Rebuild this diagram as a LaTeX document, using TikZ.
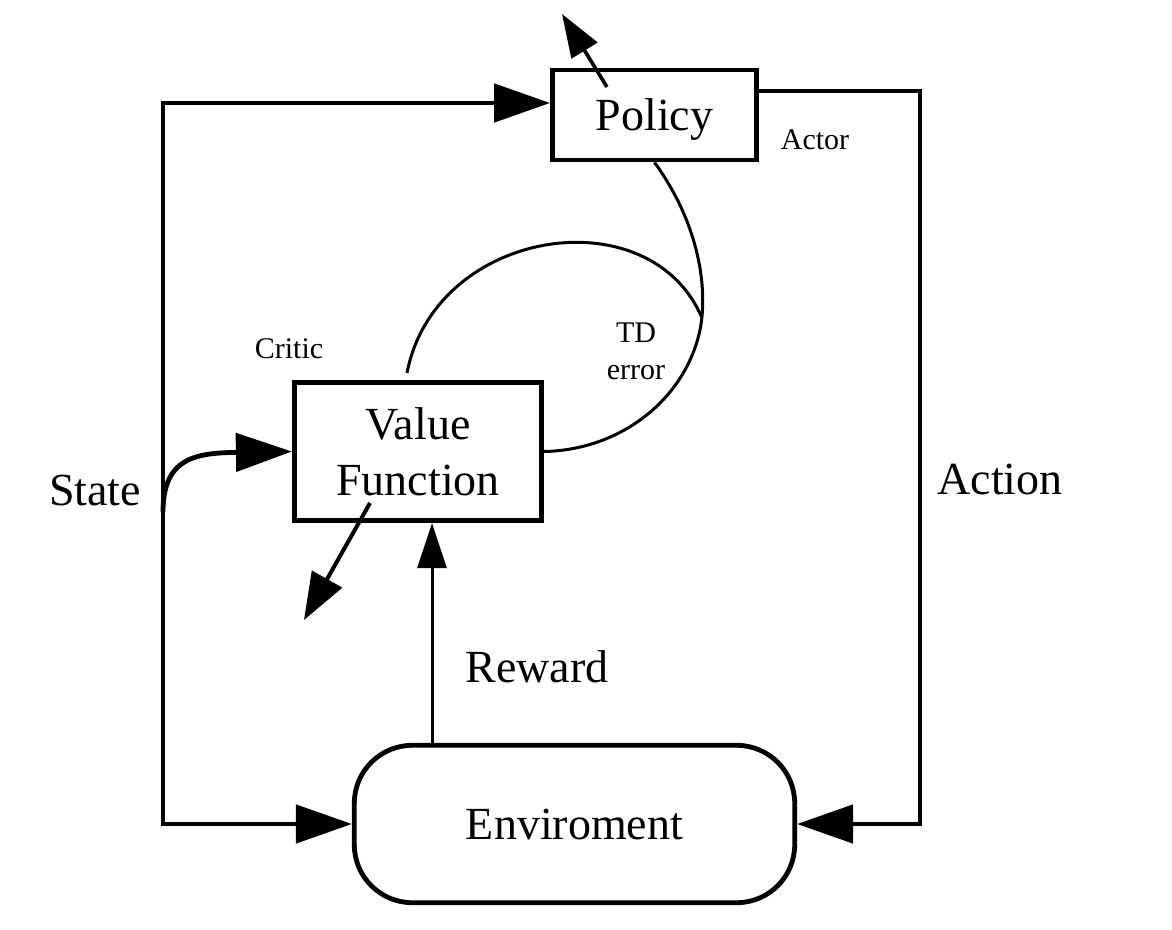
\documentclass[tikz,border=0pt]{standalone}
\usepackage{fontspec}
\setmainfont{Liberation Serif}
\usetikzlibrary{arrows.meta,calc}
\begin{document}
\begin{tikzpicture}[x=0.5pt,y=-0.5pt,
  box/.style={draw,line width=2.4pt,inner sep=0pt,align=center,
    font=\fontsize{23}{28}\selectfont},
  biglabel/.style={inner sep=0pt,anchor=base,font=\fontsize{23}{28}\selectfont},
  smalllabel/.style={inner sep=0pt,align=center,font=\fontsize{15}{18.5}\selectfont},
  mainline/.style={line width=2.4pt},
  thinline/.style={line width=1.5pt},
  BigTri/.tip={Triangle[length=28pt,width=19pt]},
]
\useasboundingbox (0,0) rectangle (1172,930);

% nodes
\node[box,minimum width=102pt,minimum height=45pt,text depth=0pt] (pol) at (654.5,115) {Policy};
\node[box,minimum width=123.7pt,minimum height=69.2pt] (vf) at (418,451.5) {Value\\Function};
\node[box,rounded corners=29pt,minimum width=220.2pt,minimum height=78.7pt,text depth=0pt] (env) at (574.5,824) {Enviroment};

% labels
\node[biglabel] (state) at (95,505) {State};
\node[biglabel] (action) at (1000,494) {Action};
\node[biglabel] (reward) at (537,682) {Reward};
\node[smalllabel,anchor=base] (critic) at (289,359) {Critic};
\node[smalllabel,anchor=base] (actor) at (815,150) {Actor};
\node[smalllabel,text depth=0pt] (tderr) at (636,351.5) {TD\\error};

% helper coordinates
\coordinate (tl) at (163,103);
\coordinate (tr) at (920,91);
\coordinate (rw) at (432,0);
\coordinate (sc) at (163,512);
\coordinate (pa) at (607,87);
\coordinate (pb) at (562,14);
\coordinate (va) at (370,503);
\coordinate (vb) at (304,620);
\coordinate (ca) at (407,373);
\coordinate (td) at (702,318);

% state loop (left)
\draw[mainline,BigTri-BigTri] (tl -| pol.west) -- (tl) -- (tl |- env.west) -- (env.west);
% action loop (right)
\draw[mainline,-BigTri] (tr -| pol.east) -- (tr) -- (tr |- env.east) -- (env.east);
% state to critic
\draw[mainline,-BigTri] (sc) .. controls (163,458) and (195,453) .. (vf.west);
% reward
\draw[thinline,-{Triangle[length=22.5pt,width=14.5pt]}] (rw |- env.north) -- (rw |- vf.south);
% update arrows
\draw[line width=1.8pt,-{Triangle[length=21.5pt,width=15pt]}] (pa) -- (pb);
\draw[line width=2pt,-{Triangle[length=23.5pt,width=17pt]}] (va) -- (vb);
% TD error curves
\draw[thinline] (ca) .. controls (435,228) and (650,195) .. (td);
\draw[thinline] (pol.south) .. controls (700,225) and (708,290) .. (700,330)
  .. controls (685,400) and (620,450) .. (vf.east);
\end{tikzpicture}
\end{document}
